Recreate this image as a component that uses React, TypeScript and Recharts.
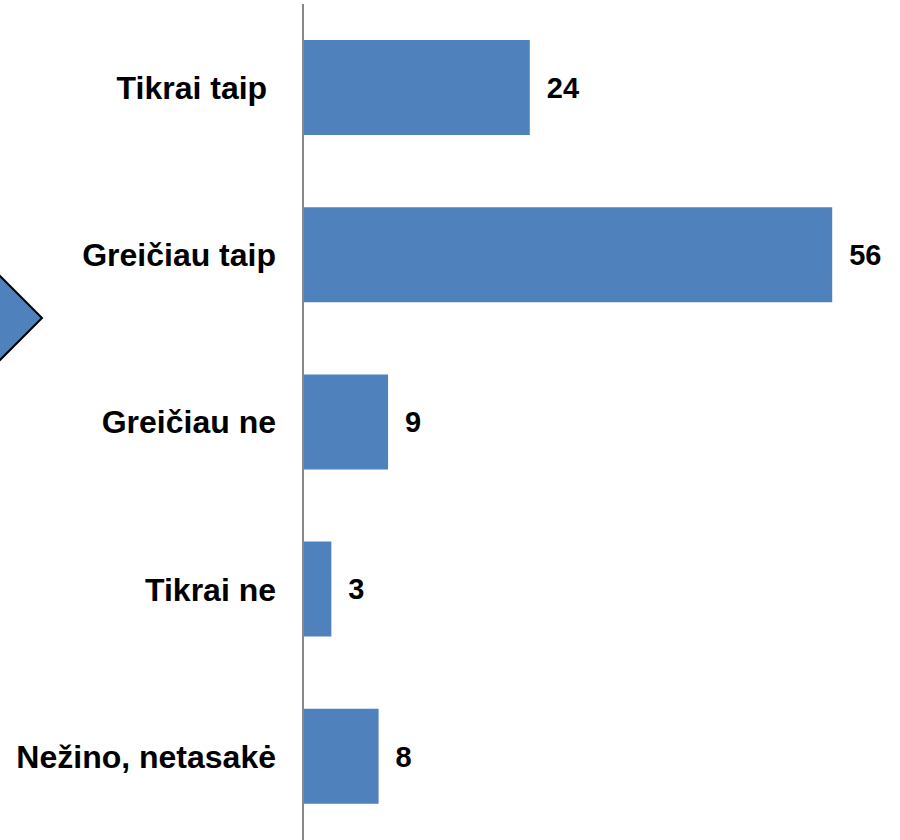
import { BarChart, Bar, XAxis, YAxis, LabelList } from "recharts";

const categories = ["Tikrai taip\u00A0", "Greičiau taip", "Greičiau ne", "Tikrai ne", "Nežino, netasakė"];
const values = [24, 56, 9, 3, 8];

const data = categories.map((name, i) => ({ name, value: values[i] }));

const font = "'Liberation Sans', Arial, sans-serif";

export default function App() {
  return (
    <div style={{ position: "absolute", top: 0, left: 0, width: 900, height: 840, background: "#fff" }}>
      <svg width={60} height={840} style={{ position: "absolute", top: 0, left: 0 }}>
        <polygon points="-60,216 42,318 -60,420" fill="#4F81BD" stroke="#000" strokeWidth={2} />
      </svg>
      <div style={{ position: "absolute", top: 0, left: 0 }}>
        <BarChart
          width={900}
          height={840}
          data={data}
          layout="vertical"
          margin={{ top: 4, right: 30, bottom: 0, left: 0 }}
        >
          <XAxis type="number" domain={[0, 60]} hide />
          <YAxis
            type="category"
            dataKey="name"
            width={303}
            axisLine={{ stroke: "#888888", strokeWidth: 2 }}
            tickLine={false}
            tickMargin={21}
            tick={{ fill: "#000", fontSize: 32, fontWeight: "bold", fontFamily: font }}
          />
          <Bar dataKey="value" fill="#4F81BD" barSize={95} isAnimationActive={false}>
            <LabelList
              dataKey="value"
              position="right"
              offset={17}
              style={{ fill: "#000", fontSize: 29, fontWeight: "bold", fontFamily: font }}
            />
          </Bar>
        </BarChart>
      </div>
    </div>
  );
}
